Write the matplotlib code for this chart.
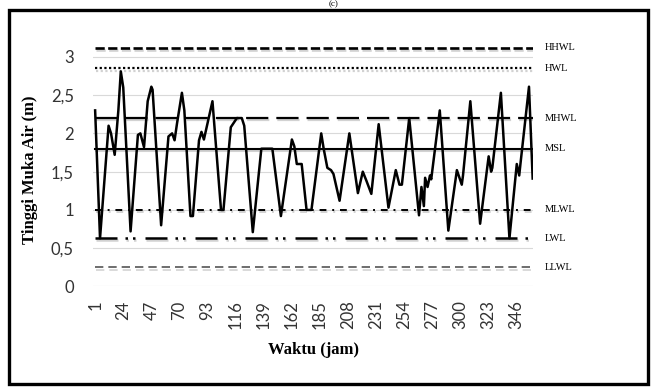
import numpy as np
import matplotlib
matplotlib.use('Agg')
import matplotlib.pyplot as plt
import matplotlib.patheffects as pe
from matplotlib.patches import Rectangle

# pasang surut per jam (titik balik)
jam = [1, 5, 12, 14, 17, 20, 22, 24, 30, 36, 38, 41, 44, 47, 48, 55,
       61, 64, 66, 68, 72, 74, 79, 81, 86, 88, 90, 97, 104, 106,
       112, 117, 121, 123, 130, 137, 146, 153, 162, 164, 166, 170,
       174, 178, 186, 188, 191, 194, 196, 201, 209, 216, 220, 223,
       227, 233, 241, 247, 250, 252, 258, 266, 268, 270, 271, 273,
       275, 276, 283, 290, 297, 301, 302, 308, 316, 323, 325, 326,
       333, 340, 346, 348, 349, 356, 359]
tinggi = [2.3, 0.63, 2.1, 2.0, 1.72, 2.3, 2.81, 2.6, 0.72, 1.98, 2.0, 1.82, 2.42, 2.61, 2.57, 0.8,
          1.96, 2.0, 1.91, 2.13, 2.53, 2.3, 0.92, 0.92, 1.91, 2.02, 1.92, 2.42, 1.0, 1.0,
          2.08, 2.2, 2.2, 2.1, 0.71, 1.8, 1.8, 0.92, 1.92, 1.83, 1.6, 1.6,
          1.0, 1.0, 2.0, 1.8, 1.55, 1.52, 1.47, 1.12, 2.0, 1.22, 1.5, 1.38,
          1.21, 2.12, 1.03, 1.52, 1.33, 1.33, 2.2, 0.93, 1.3, 1.05, 1.42, 1.3,
          1.45, 1.4, 2.3, 0.73, 1.52, 1.33, 1.45, 2.42, 0.82, 1.7, 1.5, 1.55,
          2.53, 0.63, 1.6, 1.45, 1.6, 2.61, 1.41]

muka_air = ['HHWL', 'HWL', 'MHWL', 'MSL', 'MLWL', 'LWL', 'LLWL']
elevasi = [3.12, 2.85, 2.2, 1.8, 1.0, 0.63, 0.25]
jam_ticks = list(range(1, 347, 23))
y_ticks = [0, 0.5, 1, 1.5, 2, 2.5, 3]

# gaya garis: (lebar, pola dash, warna)
gaya = {
    'HHWL': (1.9, (3.5, 1.3), 'black'),
    'HWL': (1.6, (1, 1.1), 'black'),
    'MHWL': (1.6, (10, 3.6), 'black'),
    'MSL': (1.5, None, 'black'),
    'MLWL': (1.4, (3.5, 3, 1, 3), 'black'),
    'LWL': (1.8, (8.8, 3.2, 1, 2, 1, 4), 'black'),
    'LLWL': (1.2, (5, 3), '#555555'),
}

fig = plt.figure(figsize=(6.52, 3.87), dpi=100)
ax = fig.add_axes([0.1431, 0.2597, 0.6748, 0.637])

bayangan = [pe.SimpleLineShadow(offset=(0.8, -1.6), shadow_color='gray', alpha=0.35), pe.Normal()]
for nama, lvl in zip(muka_air, elevasi):
    lw, ds, warna = gaya[nama]
    ln, = ax.plot([jam[0], jam[-1]], [lvl, lvl], color=warna, lw=lw, path_effects=bayangan)
    if ds is not None:
        ln.set_dashes(ds)
    ax.text(1.027, lvl, nama, transform=ax.get_yaxis_transform(), fontsize=7.5,
            family='Liberation Serif', va='center', ha='left', clip_on=False)

ax.plot(jam, tinggi, color='black', lw=1.8, solid_joinstyle='round')

ax.set_xlim(-0.5, 359.5)
ax.set_ylim(0, 3.22)
ax.set_yticks(y_ticks)
ax.set_yticklabels([('%g' % v).replace('.', ',') for v in y_ticks], family='Lato', fontsize=12, color='#333333')
ax.set_xticks(jam_ticks)
ax.set_xticklabels([str(t) for t in jam_ticks], rotation=90, family='Lato', fontsize=12, color='#333333')
ax.tick_params(axis='y', length=0, pad=14)
ax.tick_params(axis='x', length=0, pad=10)
ax.yaxis.grid(True, color='#d9d9d9', lw=0.8)
ax.set_axisbelow(True)
for s in ax.spines.values():
    s.set_visible(False)

fig.text(30 / 652, 1 - 170 / 387, 'Tinggi Muka Air (m)', rotation=90, ha='center', va='center',
         family='Liberation Serif', fontweight='bold', fontsize=12)
fig.text(313 / 652, 1 - 350 / 387, 'Waktu (jam)', ha='center', va='center',
         family='Liberation Serif', fontweight='bold', fontsize=12)
fig.text(334 / 652, 1 - 0.5 / 387, '(c)', ha='center', va='top',
         family='Liberation Serif', fontsize=6.5)

fig.patches.append(Rectangle((8.5 / 652, 3 / 387), 639 / 652, 374 / 387, transform=fig.transFigure,
                             fill=False, edgecolor='black', lw=2.4))

fig.savefig('out.png', dpi=100)
